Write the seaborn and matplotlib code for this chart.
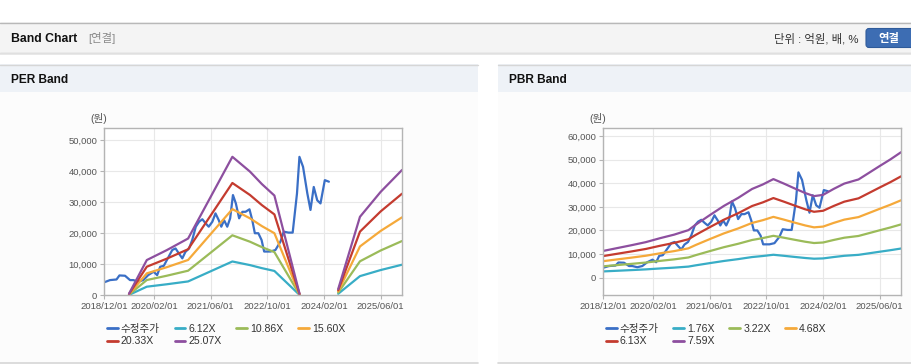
import pandas as pd
import matplotlib.pyplot as plt
import seaborn as sns
from matplotlib.lines import Line2D
from matplotlib.patches import Rectangle, FancyBboxPatch

# adjusted close price (수정주가)
price_dates = ['2018-12-01', '2019-01-19', '2019-03-16', '2019-04-10', '2019-05-28', '2019-07-10',
               '2019-08-07', '2019-09-19', '2019-11-01', '2019-12-13', '2020-01-28', '2020-02-28',
               '2020-03-25', '2020-04-25', '2020-05-22', '2020-07-07', '2020-08-04', '2020-09-01',
               '2020-10-01', '2020-10-28', '2020-11-28', '2020-12-25', '2021-01-25', '2021-02-22',
               '2021-03-22', '2021-04-19', '2021-05-16', '2021-06-16', '2021-07-13', '2021-08-10',
               '2021-09-01', '2021-09-25', '2021-10-22', '2021-11-16', '2021-12-10', '2022-01-04',
               '2022-02-01', '2022-03-01', '2022-03-28', '2022-05-01', '2022-05-25', '2022-06-16',
               '2022-07-16', '2022-08-13', '2022-09-04', '2022-10-28', '2022-12-10', '2023-01-22',
               '2023-02-19', '2023-04-01', '2023-05-07', '2023-06-13', '2023-07-04', '2023-08-04',
               '2023-09-10', '2023-10-07', '2023-11-04', '2023-12-04', '2024-01-01', '2024-02-07',
               '2024-03-13']
price_values = [4200, 4900, 5100, 6400, 6300, 4900,
                4900, 4400, 4900, 6500, 7600, 6500,
                9200, 9500, 11400, 14600, 15100, 13500,
                11900, 14000, 15100, 17800, 22100, 23700,
                24500, 23200, 22100, 23700, 26400, 24200,
                22100, 24200, 22100, 24800, 32300, 29600,
                24800, 26900, 26900, 27700, 24200, 20000,
                20000, 17800, 14100, 14100, 14600, 17300,
                20500, 20200, 20200, 32800, 44600, 41400,
                32800, 27500, 34900, 30600, 29600, 37100,
                36600]

# EPS used for the PER band (two segments, gap in between)
per_dates = ['2019-07-01', '2019-12-01', '2020-05-20', '2020-11-20', '2021-12-05', '2022-05-05',
             '2022-08-15', '2022-12-01', '2023-07-05',
             '2024-06-01', '2024-12-05', '2025-06-01', '2025-12-01']
per_eps = [20, 453, 580, 730, 1780, 1590,
           1430, 1282, 20,
           80, 1009, 1330, 1610]
per_segment = [0, 0, 0, 0, 0, 0, 0, 0, 0, 1, 1, 1, 1]
per_multiples = [6.12, 10.86, 15.60, 20.33, 25.07]
per_labels = ['6.12X', '10.86X', '15.60X', '20.33X', '25.07X']

# BPS used for the PBR band
pbr_dates = ['2018-12-01', '2019-04-01', '2019-08-01', '2019-12-01', '2020-04-01', '2020-08-01',
             '2020-12-01', '2021-02-01', '2021-06-01', '2021-10-01', '2022-02-01', '2022-06-01',
             '2022-09-01', '2022-12-01', '2023-03-01', '2023-06-01', '2023-09-01', '2023-11-15',
             '2024-02-01', '2024-05-01', '2024-08-01', '2024-12-01', '2025-03-01', '2025-06-01',
             '2025-09-01', '2025-12-01']
pbr_bps = [1490, 1650, 1810, 1980, 2200, 2400,
           2650, 2950, 3480, 4000, 4450, 4950,
           5200, 5500, 5250, 4980, 4720, 4550,
           4620, 4950, 5250, 5480, 5850, 6230,
           6600, 7000]
pbr_multiples = [1.76, 3.22, 4.68, 6.13, 7.59]
pbr_labels = ['1.76X', '3.22X', '4.68X', '6.13X', '7.59X']

tick_dates = ['2018-12-01', '2020-02-01', '2021-06-01', '2022-10-01', '2024-02-01', '2025-06-01']
tick_labels = ['2018/12/01', '2020/02/01', '2021/06/01', '2022/10/01', '2024/02/01', '2025/06/01']
price_label = '수정주가'

price_color = '#3a6fc6'
band_colors = ['#38adc6', '#9bbb59', '#f5a93a', '#c43b2f', '#8d4f9f']

W, H = 912, 364

sns.set_style('white')
plt.rcParams['font.family'] = ['Liberation Sans', 'Noto Sans CJK KR', 'DejaVu Sans']


def box(x0, y0, x1, y1):
    return [x0 / W, 1 - y1 / H, (x1 - x0) / W, (y1 - y0) / H]


def band_frame(dates, base, segs, mults, labels):
    rows = []
    for d, v in zip(price_dates, price_values):
        rows.append((d, v, price_label, 0))
    for m, lab in zip(mults, labels):
        for d, b, s in zip(dates, base, segs):
            rows.append((d, b * m, lab, s))
    df = pd.DataFrame(rows, columns=['date', 'value', 'series', 'seg'])
    df['date'] = pd.to_datetime(df['date'])
    return df


def draw_band(ax, df, labels, ylim, yticks, leg_xy):
    order = [price_label] + labels
    pal = dict(zip(order, [price_color] + band_colors))
    sns.lineplot(data=df, x='date', y='value', hue='series', hue_order=order, units='seg',
                 estimator=None, sort=False, palette=pal, linewidth=1.6, legend=False, ax=ax)
    ax.set_xlim(pd.Timestamp('2018-12-01'), pd.Timestamp('2025-12-01'))
    ax.set_ylim(*ylim)
    ax.set_xticks(pd.to_datetime(tick_dates))
    ax.set_xticklabels(tick_labels)
    ax.set_yticks(yticks)
    ax.set_yticklabels([f'{t:,}' for t in yticks])
    ax.set_xlabel('')
    ax.set_ylabel('')
    ax.grid(True, color='#e8e8e8', lw=0.8)
    ax.set_axisbelow(True)
    for sp in ax.spines.values():
        sp.set_visible(True)
        sp.set_color('#b4b4b4')
        sp.set_linewidth(1.0)
    ax.tick_params(axis='both', labelsize=6.8, labelcolor='#555555', color='#b4b4b4',
                   length=3, width=0.8, pad=2, left=True, bottom=True)
    ax.set_facecolor('white')

    handles = [Line2D([], [], color=pal[k], lw=2) for k in order]
    # row-major layout with ncol=4
    idx = [0, 4, 1, 5, 2, 3]
    ax.legend([handles[i] for i in idx], [order[i] for i in idx], loc='upper left',
              bbox_to_anchor=(leg_xy[0] / W, 1 - leg_xy[1] / H), bbox_transform=fig.transFigure,
              ncol=4, frameon=False, fontsize=7.6, handlelength=1.0, handletextpad=0.3,
              columnspacing=1.4, labelspacing=0.22, borderpad=0, borderaxespad=0,
              labelcolor='#333333')


fig = plt.figure(figsize=(W / 100, H / 100), dpi=100)

# page background and headers
bg = fig.add_axes([0, 0, 1, 1], zorder=0)
bg.set_xlim(0, W)
bg.set_ylim(H, 0)
bg.axis('off')
bg.add_patch(Rectangle((0, 22), W, 31, facecolor='#f4f4f4', edgecolor='none'))
bg.plot([0, W], [22.5, 22.5], color='#b8b8b8', lw=1)
bg.plot([0, W], [53, 53], color='#c4c4c4', lw=1)
bg.plot([0, W], [54.2, 54.2], color='#e6e6e6', lw=1.2)
bg.text(11, 38.5, 'Band Chart', fontsize=8.8, fontweight='bold', color='#111111', va='center')
bg.text(88, 38.5, '[연결]', fontsize=8.2, color='#8a8a8a', va='center')
bg.text(859, 38.5, '단위 : 억원, 배, %', fontsize=8.2, color='#333333', va='center', ha='right')
bg.add_patch(FancyBboxPatch((866, 28.5), 50, 19, boxstyle='round,pad=0,rounding_size=3',
                            facecolor='#3d6db3', edgecolor='#2f5b9a', lw=0.8))
bg.text(889, 38.5, '연결', fontsize=8.2, fontweight='bold', color='white', va='center', ha='center')

for x0, x1, title in [(0, 478.5, 'PER Band'), (498.5, W, 'PBR Band')]:
    bg.add_patch(Rectangle((x0, 64), x1 - x0, 28, facecolor='#eef2f7', edgecolor='none'))
    bg.add_patch(Rectangle((x0, 92), x1 - x0, 270, facecolor='#fcfcfc', edgecolor='none'))
    bg.plot([x0, x1], [64.5, 64.5], color='#d6d6d6', lw=1)
    bg.plot([x0, x1], [362.5, 362.5], color='#d6d6d6', lw=1.2)
    bg.text(x0 + 11, 80, title, fontsize=8.6, fontweight='bold', color='#111111', va='center')

bg.text(99, 118, '(원)', fontsize=7.6, color='#555555', va='center', ha='center')
bg.text(598, 118, '(원)', fontsize=7.6, color='#555555', va='center', ha='center')

# PER band chart
ax1 = fig.add_axes(box(104.3, 128, 402, 295.3), zorder=1)
per_df = band_frame(per_dates, per_eps, per_segment, per_multiples, per_labels)
draw_band(ax1, per_df, per_labels, (0, 53900), [0, 10000, 20000, 30000, 40000, 50000], (107, 324))

# PBR band chart
ax2 = fig.add_axes(box(603.3, 128, 901, 295.3), zorder=1)
pbr_df = band_frame(pbr_dates, pbr_bps, [0] * len(pbr_dates), pbr_multiples, pbr_labels)
draw_band(ax2, pbr_df, pbr_labels, (-7500, 63400), [0, 10000, 20000, 30000, 40000, 50000, 60000],
          (606, 324))

fig.savefig('out.png', dpi=100, facecolor='white')
